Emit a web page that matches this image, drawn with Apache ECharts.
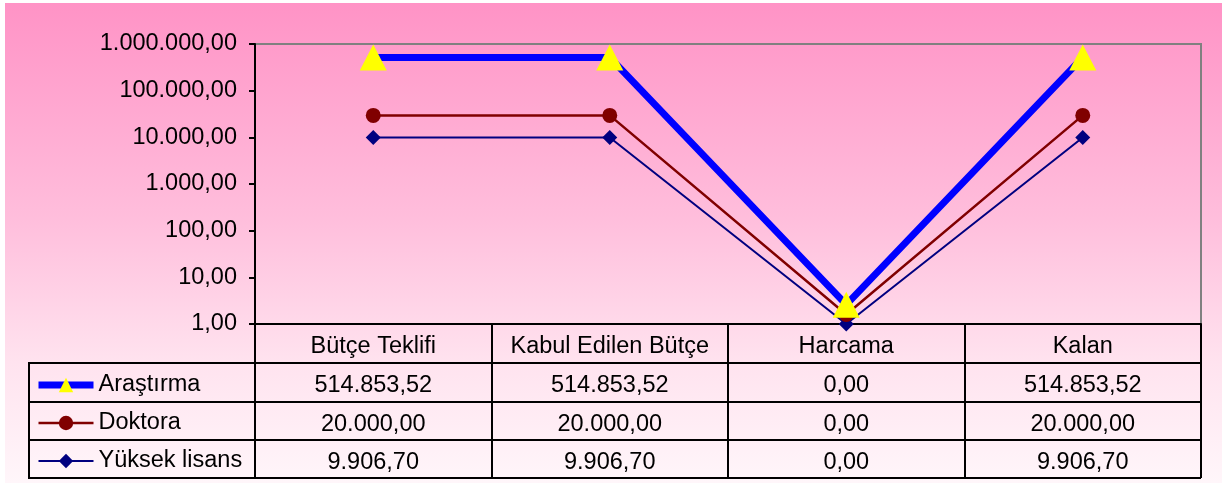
<!DOCTYPE html>
<html>
<head>
<meta charset="utf-8">
<script src="https://cdn.jsdelivr.net/npm/echarts@6/dist/echarts.min.js"></script>
<style>
  html, body { margin: 0; padding: 0; background: #fff; }
  #chart { width: 1225px; height: 485px; }
</style>
</head>
<body>
<div id="chart"></div>
<script>
// kategoriler ve seriler
const categories = ['Bütçe Teklifi', 'Kabul Edilen Bütçe', 'Harcama', 'Kalan'];
const seriesNames = ['Araştırma', 'Doktora', 'Yüksek lisans'];

// tablo degerleri
const arastirma = [514853.52, 514853.52, 0, 514853.52];
const doktora = [20000, 20000, 0, 20000];
const yuksekLisans = [9906.70, 9906.70, 0, 9906.70];

// grafikte cizilen konumlar (log eksende 0 cizilemedigi icin okunan degerler)
const arastirmaPlot = [514853.52, 514853.52, 2.6, 514853.52];
const doktoraPlot = [29500, 29500, 1.6, 29500];
const yuksekLisansPlot = [9906.70, 9906.70, 1, 9906.70];

const FONT = '"Liberation Sans", Arial, sans-serif';
const FS = 23.5;

// turkce sayi bicimi: 1.000.000,00
function trFmt(v) {
  let p = Number(v).toFixed(2).split('.');
  p[0] = p[0].replace(/\B(?=(\d{3})+(?!\d))/g, '.');
  return p[0] + ',' + p[1];
}

const tableRows = [arastirma, doktora, yuksekLisans];

let chart = echarts.init(document.getElementById('chart'), null, {renderer: 'canvas'});

// tablo satirlari icin ek x eksenleri
let rowAxes = tableRows.map(function (row, i) {
  return {
    type: 'category',
    data: categories,
    position: 'bottom',
    offset: [39, 78, 116][i],
    axisLine: {show: false},
    axisTick: {show: false},
    axisLabel: {
      interval: 0,
      margin: 11,
      fontFamily: FONT,
      fontSize: FS,
      color: '#000',
      formatter: function (v, idx) { return trFmt(row[idx]); }
    }
  };
});

let hLines = [363, 402, 440, 478].map(function (y) {
  return {
    type: 'line',
    shape: {x1: 29, y1: y, x2: 1201, y2: y},
    style: {stroke: '#000', lineWidth: 2}
  };
});

let option = {
  animation: false,
  backgroundColor: '#fff',
  graphic: [
    {
      type: 'rect',
      z: -10,
      shape: {x: 5, y: 3, width: 1217, height: 480},
      style: {
        fill: new echarts.graphic.LinearGradient(0, 0, 0, 1, [
          {offset: 0, color: '#ff93c6'},
          {offset: 0.45, color: '#ffbedc'},
          {offset: 0.75, color: '#ffe3ef'},
          {offset: 1, color: '#fff6fa'}
        ])
      }
    },
    {
      type: 'line',
      shape: {x1: 29, y1: 362, x2: 29, y2: 479},
      style: {stroke: '#000', lineWidth: 2}
    }
  ].concat(hLines),
  grid: {
    left: 255,
    right: 24,
    top: 44,
    bottom: 161,
    show: true,
    borderColor: '#808080',
    borderWidth: 2,
    backgroundColor: 'transparent'
  },
  legend: {
    orient: 'vertical',
    left: 35,
    top: 373,
    padding: 0,
    height: 115,
    itemWidth: 55,
    itemHeight: 18,
    itemGap: 14,
    data: [
      {name: 'Araştırma', lineStyle: {width: 7, color: '#0000ff'}},
      {name: 'Doktora', lineStyle: {width: 2.5, color: '#800000'}},
      {name: 'Yüksek lisans', lineStyle: {width: 2, color: '#000080'}}
    ],
    textStyle: {fontFamily: FONT, fontSize: FS, color: '#000'}
  },
  xAxis: [
    {
      type: 'category',
      data: categories,
      boundaryGap: true,
      axisLine: {lineStyle: {color: '#000', width: 2}},
      axisTick: {show: true, interval: 0, length: 154, lineStyle: {color: '#000', width: 2}},
      axisLabel: {interval: 0, margin: 11, fontFamily: FONT, fontSize: FS, color: '#000'}
    }
  ].concat(rowAxes),
  yAxis: {
    type: 'log',
    logBase: 10,
    min: 1,
    max: 1000000,
    axisLine: {show: true, lineStyle: {color: '#000', width: 2}},
    axisTick: {show: true, length: 6, lineStyle: {color: '#000', width: 2}},
    splitLine: {show: false},
    axisLabel: {
      margin: 18,
      fontFamily: FONT,
      fontSize: FS,
      color: '#000',
      formatter: function (v) { return trFmt(Math.round(v)); }
    }
  },
  series: [
    {
      name: 'Yüksek lisans',
      type: 'line',
      data: yuksekLisansPlot,
      symbol: 'diamond',
      symbolSize: 15,
      color: '#000080',
      lineStyle: {color: '#000080', width: 2},
      itemStyle: {color: '#000080'},
      z: 2
    },
    {
      name: 'Doktora',
      type: 'line',
      data: doktoraPlot,
      symbol: 'circle',
      symbolSize: 15,
      color: '#800000',
      lineStyle: {color: '#800000', width: 2.5},
      itemStyle: {color: '#800000'},
      z: 3
    },
    {
      name: 'Araştırma',
      type: 'line',
      data: arastirmaPlot,
      symbol: 'triangle',
      symbolSize: [27, 26],
      color: '#0000ff',
      lineStyle: {color: '#0000ff', width: 7},
      itemStyle: {color: '#ffff00'},
      z: 4
    }
  ]
};

chart.setOption(option);
</script>
</body>
</html>
